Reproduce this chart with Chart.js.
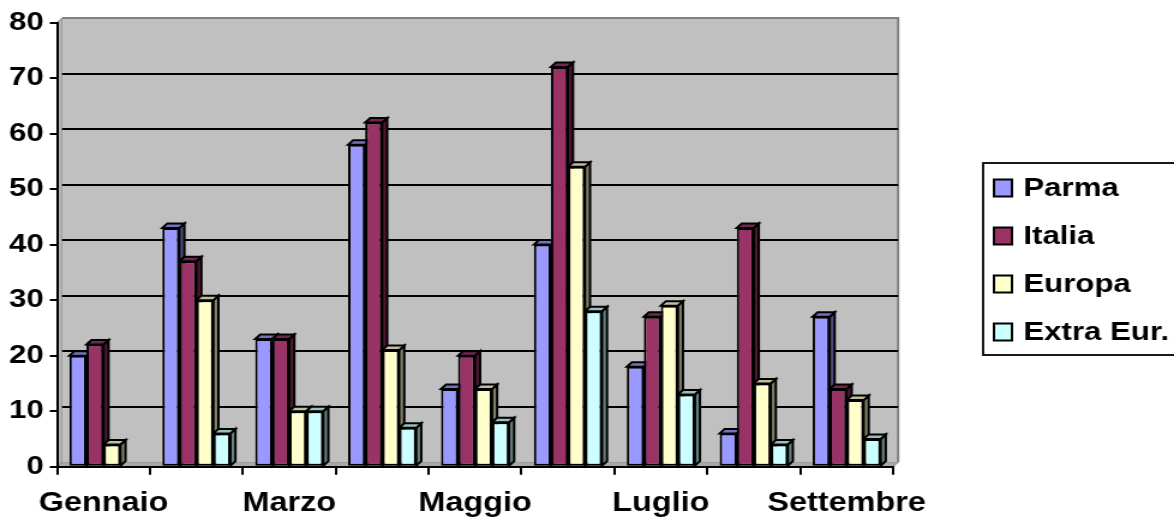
<!DOCTYPE html>
<html>
<head>
<meta charset="utf-8">
<title>Presenze per provenienza</title>
<script src="https://cdn.jsdelivr.net/npm/chart.js@4/dist/chart.umd.min.js"></script>
<style>
  html, body { margin: 0; padding: 0; background: #ffffff; overflow: hidden; }
</style>
</head>
<body>
<!-- drawing surface is 978 px wide, shown stretched to the full 1174 px width -->
<canvas id="chart" width="978" height="517" style="display:block;width:1174px;height:517px"></canvas>
<script>
// ---- data ----
const categories  = ['Gennaio', 'Febbraio', 'Marzo', 'Aprile', 'Maggio', 'Giugno', 'Luglio', 'Agosto', 'Settembre'];
const seriesNames = ['Parma', 'Italia', 'Europa', 'Extra Eur.'];
const parma    = [20, 43, 23, 58, 14, 40, 18,  6, 27];
const italia   = [22, 37, 23, 62, 20, 72, 27, 43, 14];
const europa   = [ 4, 30, 10, 21, 14, 54, 29, 15, 12];
const extraEur = [ 0,  6, 10,  7,  8, 28, 13,  4,  5];
const yTickValues = [0, 10, 20, 30, 40, 50, 60, 70, 80];

// ---- styling ----
const frontColors = ['#9999FF', '#993366', '#FFFFCC', '#CCFFFF'];
const topColors   = ['#7373BF', '#732650', '#BFBF99', '#99BFBF'];
const sideColors  = ['#4C4C80', '#4D1A33', '#808066', '#668080'];
const DX = 4.2;   // depth offset to the right
const DY = 4.5;   // depth offset upwards
const FONT = { family: '"Liberation Sans", Arial, sans-serif', size: 26, weight: 'bold' };
const CAT_FONT = { family: '"Liberation Sans", Arial, sans-serif', size: 27, weight: 'bold' };

// back wall, side wall and floor of the 3-D box
const wallPlugin = {
  id: 'wall',
  beforeDraw(chart) {
    const { ctx, chartArea: a } = chart;
    ctx.save();
    // side wall
    ctx.beginPath();
    ctx.moveTo(a.left, a.top);
    ctx.lineTo(a.left + DX, a.top - DY);
    ctx.lineTo(a.left + DX, a.bottom - DY);
    ctx.lineTo(a.left, a.bottom);
    ctx.closePath();
    ctx.fillStyle = '#b4b4b4';
    ctx.fill();
    ctx.strokeStyle = '#808080';
    ctx.lineWidth = 1;
    ctx.stroke();
    // floor
    ctx.beginPath();
    ctx.moveTo(a.left, a.bottom);
    ctx.lineTo(a.right, a.bottom);
    ctx.lineTo(a.right + DX, a.bottom - DY);
    ctx.lineTo(a.left + DX, a.bottom - DY);
    ctx.closePath();
    ctx.fillStyle = '#a8a8a8';
    ctx.fill();
    ctx.stroke();
    // back wall
    ctx.fillStyle = '#C0C0C0';
    ctx.fillRect(a.left + DX, a.top - DY, a.right - a.left, a.bottom - a.top);
    ctx.strokeStyle = '#808080';
    ctx.lineWidth = 2;
    ctx.beginPath();
    ctx.moveTo(a.left + DX, a.top - DY);
    ctx.lineTo(a.right + DX, a.top - DY);
    ctx.lineTo(a.right + DX, a.bottom - DY);
    ctx.stroke();
    ctx.restore();
  },
  beforeDatasetsDraw(chart) {
    const { ctx, chartArea: a, scales: { y } } = chart;
    ctx.save();
    // gridlines on the back wall
    ctx.strokeStyle = '#000000';
    ctx.lineWidth = 2;
    y.ticks.forEach(t => {
      if (t.value <= y.min || t.value >= y.max) return;
      const py = Math.round(y.getPixelForValue(t.value) - DY);
      ctx.beginPath();
      ctx.moveTo(a.left + DX, py);
      ctx.lineTo(a.right + DX, py);
      ctx.stroke();
    });
    // top and side faces of every bar, left to right
    ctx.lineJoin = 'miter';
    for (let i = 0; i < categories.length; i++) {
      chart.data.datasets.forEach((ds, d) => {
        const el = chart.getDatasetMeta(d).data[i];
        if (!el || !ds.data[i]) return;
        const l = el.x - el.width / 2, r = el.x + el.width / 2, t = el.y, b = el.base;
        // side
        ctx.beginPath();
        ctx.moveTo(r, t);
        ctx.lineTo(r + DX, t - DY);
        ctx.lineTo(r + DX, b - DY);
        ctx.lineTo(r, b);
        ctx.closePath();
        ctx.fillStyle = sideColors[d];
        ctx.fill();
        ctx.stroke();
        // top
        ctx.beginPath();
        ctx.moveTo(l, t);
        ctx.lineTo(l + DX, t - DY);
        ctx.lineTo(r + DX, t - DY);
        ctx.lineTo(r, t);
        ctx.closePath();
        ctx.fillStyle = topColors[d];
        ctx.fill();
        ctx.stroke();
      });
    }
    ctx.restore();
  }
};

// boxed legend on the right
const legendBoxPlugin = {
  id: 'legendBox',
  afterDraw(chart) {
    const { ctx } = chart;
    const boxL = 819, boxT = 163, boxB = 355;
    ctx.save();
    ctx.strokeStyle = '#000000';
    ctx.lineWidth = 1.8;
    ctx.strokeRect(boxL, boxT, chart.width + 10 - boxL, boxB - boxT);
    ctx.font = `${FONT.weight} ${FONT.size}px ${FONT.family}`;
    ctx.textBaseline = 'middle';
    ctx.textAlign = 'left';
    chart.data.datasets.forEach((ds, d) => {
      const cy = 188 + d * 48;
      ctx.fillStyle = ds.backgroundColor;
      ctx.fillRect(828, cy - 8.5, 15, 17);
      ctx.lineWidth = 2;
      ctx.strokeRect(828, cy - 8.5, 15, 17);
      ctx.fillStyle = '#000000';
      ctx.fillText(ds.label, 852.5, cy + 1);
    });
    ctx.restore();
  }
};

const seriesValues = [parma, italia, europa, extraEur];

new Chart(document.getElementById('chart'), {
  type: 'bar',
  data: {
    labels: categories,
    datasets: seriesValues.map((vals, d) => ({
      label: seriesNames[d],
      data: vals,
      backgroundColor: frontColors[d],
      borderColor: '#000000',
      borderWidth: 2,
      borderSkipped: false,
      categoryPercentage: 0.733,
      barPercentage: 1.0
    }))
  },
  options: {
    responsive: false,
    animation: false,
    devicePixelRatio: 1,
    layout: { padding: { left: 0, top: 22.5, right: 234, bottom: 0 } },
    plugins: {
      legend: { display: false },
      tooltip: { enabled: false },
      title: { display: false }
    },
    scales: {
      x: {
        afterFit: axis => { axis.height = 50.3; },
        grid: { display: true, drawOnChartArea: false, drawTicks: true, tickLength: 8, color: '#000000', lineWidth: 2, offset: true },
        border: { display: true, color: '#000000', width: 2 },
        ticks: {
          autoSkip: false,
          maxRotation: 0,
          color: '#000000',
          font: CAT_FONT,
          padding: 12.5,
          callback: (v, i) => (i % 2 === 0 ? categories[i] : '')
        }
      },
      y: {
        min: 0,
        max: 80,
        afterBuildTicks: axis => { axis.ticks = yTickValues.map(v => ({ value: v })); },
        afterFit: axis => { axis.width = 47.5; },
        grid: { display: true, drawOnChartArea: false, drawTicks: true, tickLength: 6, color: '#000000', lineWidth: 2 },
        border: { display: true, color: '#000000', width: 2 },
        ticks: { color: '#000000', font: FONT, padding: 5 }
      }
    }
  },
  plugins: [wallPlugin, legendBoxPlugin]
});
</script>
</body>
</html>
